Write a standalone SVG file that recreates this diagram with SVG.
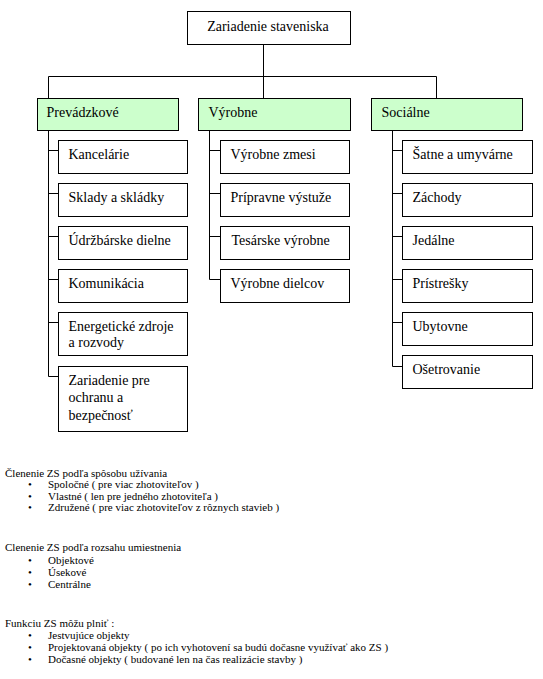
<svg xmlns="http://www.w3.org/2000/svg" width="543" height="679" viewBox="0 0 543 679" font-family="'Liberation Serif', 'Times New Roman', 'DejaVu Serif', serif">
<style>
.box{fill:#ffffff;stroke:#000000;stroke-width:1}
.l1{fill:#ccffcc;stroke:#000000;stroke-width:1}
.t{font-family:'Liberation Serif','Times New Roman','DejaVu Serif',serif;font-size:14px;fill:#000000}
.s{font-family:'Liberation Serif','Times New Roman','DejaVu Serif',serif;font-size:11px;fill:#000000}
.b{font-family:'Liberation Serif','Times New Roman','DejaVu Serif',serif;font-size:11px;fill:#000000;text-anchor:middle}
.c{fill:none;stroke:#000000;stroke-width:1}
</style>
<rect width="543" height="679" fill="#ffffff"/>
<g id="connectors">
<path class="c" d="M263.5 44.5V98.5M48.5 98.5V76.5H436.5V98.5"/>
<path class="c" d="M48.5 130.5V376.5H58.5M48.5 150.5H58.5M48.5 193.5H58.5M48.5 236.5H58.5M48.5 279.5H58.5M48.5 322.5H58.5"/>
<path class="c" d="M209.5 130.5V279.5H220.5M209.5 150.5H220.5M209.5 193.5H220.5M209.5 236.5H220.5"/>
<path class="c" d="M392.5 130.5V366.5H402.5M392.5 150.5H402.5M392.5 193.5H402.5M392.5 236.5H402.5M392.5 279.5H402.5M392.5 322.5H402.5"/>
</g>
<g id="root"><rect class="box" x="187.5" y="11.5" width="163" height="33"/><text class="t" x="268" y="30.5" text-anchor="middle">Zariadenie staveniska</text></g>
<g id="prevadzkove"><rect class="l1" x="37.5" y="98.5" width="141" height="32"/><text class="t" x="46.5" y="116.5">Prevádzkové</text></g>
<g id="vyrobne"><rect class="l1" x="198.5" y="98.5" width="152" height="32"/><text class="t" x="208.5" y="116.5">Výrobne</text></g>
<g id="socialne"><rect class="l1" x="371.5" y="98.5" width="151" height="32"/><text class="t" x="381.5" y="116.5">Sociálne</text></g>

<g id="kancelarie"><rect class="box" x="58.5" y="140.5" width="129" height="33"/><text class="t" x="68.5" y="158.5">Kancelárie</text></g>
<g id="sklady"><rect class="box" x="58.5" y="183.5" width="129" height="33"/><text class="t" x="68.5" y="201.5">Sklady a skládky</text></g>
<g id="udrzbarske"><rect class="box" x="58.5" y="226.5" width="129" height="33"/><text class="t" x="68.5" y="244.5">Údržbárske dielne</text></g>
<g id="komunikacia"><rect class="box" x="58.5" y="269.5" width="129" height="33"/><text class="t" x="68.5" y="287.5">Komunikácia</text></g>
<g id="energeticke"><rect class="box" x="58.5" y="312.5" width="129" height="43"/><text class="t" x="68.5" y="330.5">Energetické zdroje</text><text class="t" x="68.5" y="347">a rozvody</text></g>
<g id="ochrana"><rect class="box" x="58.5" y="366.5" width="129" height="65"/><text class="t" x="68.5" y="384.5">Zariadenie pre</text><text class="t" x="68.5" y="402">ochranu a</text><text class="t" x="68.5" y="419.5">bezpečnosť</text></g>

<g id="zmesi"><rect class="box" x="220.5" y="140.5" width="129" height="33"/><text class="t" x="230.5" y="158.5">Výrobne zmesi</text></g>
<g id="vystuze"><rect class="box" x="220.5" y="183.5" width="129" height="33"/><text class="t" x="230.5" y="201.5">Prípravne výstuže</text></g>
<g id="tesarske"><rect class="box" x="220.5" y="226.5" width="129" height="33"/><text class="t" x="231.5" y="244.5">Tesárske výrobne</text></g>
<g id="dielcov"><rect class="box" x="220.5" y="269.5" width="129" height="33"/><text class="t" x="230.5" y="287.5">Výrobne dielcov</text></g>

<g id="satne"><rect class="box" x="402.5" y="140.5" width="130" height="33"/><text class="t" x="412.5" y="158.5">Šatne a umyvárne</text></g>
<g id="zachody"><rect class="box" x="402.5" y="183.5" width="130" height="33"/><text class="t" x="412.5" y="201.5">Záchody</text></g>
<g id="jedalne"><rect class="box" x="402.5" y="226.5" width="130" height="33"/><text class="t" x="412.5" y="244.5">Jedálne</text></g>
<g id="pristresky"><rect class="box" x="402.5" y="269.5" width="130" height="33"/><text class="t" x="412.5" y="287.5">Prístrešky</text></g>
<g id="ubytovne"><rect class="box" x="402.5" y="312.5" width="130" height="33"/><text class="t" x="412.5" y="330.5">Ubytovne</text></g>
<g id="osetrovanie"><rect class="box" x="402.5" y="355.5" width="130" height="33"/><text class="t" x="412.5" y="373.5">Ošetrovanie</text></g>

<g id="notes">
<text class="s" x="5" y="476.5">Členenie ZS podľa spôsobu užívania</text>
<text class="b" x="30" y="488">•</text><text class="s" x="48" y="488">Spoločné ( pre viac zhotoviteľov )</text>
<text class="b" x="30" y="499.5">•</text><text class="s" x="48" y="499.5">Vlastné ( len pre jedného zhotoviteľa )</text>
<text class="b" x="30" y="511">•</text><text class="s" x="48" y="511">Združené ( pre viac zhotoviteľov z rôznych stavieb )</text>

<text class="s" x="5" y="550.5">Clenenie ZS podľa rozsahu umiestnenia</text>
<text class="b" x="30" y="564">•</text><text class="s" x="48" y="564">Objektové</text>
<text class="b" x="30" y="576">•</text><text class="s" x="48" y="576">Úsekové</text>
<text class="b" x="30" y="588">•</text><text class="s" x="48" y="588">Centrálne</text>

<text class="s" x="5" y="626.5">Funkciu ZS môžu plniť :</text>
<text class="b" x="30" y="639">•</text><text class="s" x="48" y="639">Jestvujúce objekty</text>
<text class="b" x="30" y="651">•</text><text class="s" x="48" y="651">Projektovaná objekty ( po ich vyhotovení sa budú dočasne využívať ako ZS )</text>
<text class="b" x="30" y="663">•</text><text class="s" x="48" y="663">Dočasné objekty ( budované len na čas realizácie stavby )</text>
</g>
</svg>
